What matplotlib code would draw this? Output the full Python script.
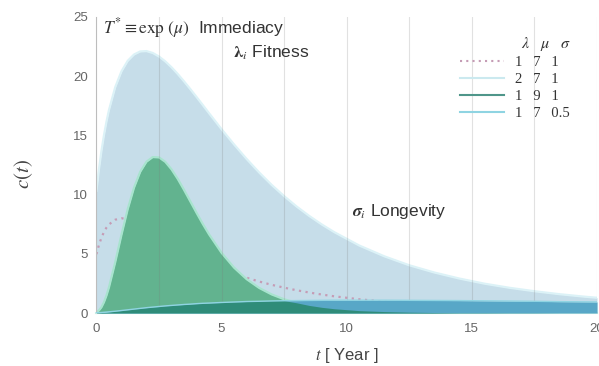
import numpy as np
import matplotlib
matplotlib.use("Agg")
import matplotlib.pyplot as plt
from matplotlib.lines import Line2D

# ---- data (t in years, c(t) citations/year) ----
t = [0, 0.1, 0.2, 0.3, 0.4, 0.5, 0.75, 1.0, 1.25, 1.5, 1.75, 2.0, 2.25, 2.5, 2.75,
     3.0, 3.25, 3.5, 3.75, 4.0, 4.25, 4.5, 5.0, 5.5, 6.0, 6.5, 7.0, 7.5, 8.0, 8.5,
     9.0, 9.5, 10.5, 11.5, 12.5, 13.5, 14.5, 15.5, 16.5, 17.5, 18.5, 19.5, 20.0]

c_171 = [4.97, 5.75, 6.36, 6.84, 7.21, 7.48, 7.88, 8.00, 7.93, 7.75, 7.51, 7.21, 6.90,
         6.57, 6.25, 5.92, 5.60, 5.30, 5.01, 4.73, 4.46, 4.21, 3.75, 3.34, 2.98, 2.66,
         2.38, 2.14, 1.92, 1.73, 1.56, 1.41, 1.16, 0.96, 0.80, 0.67, 0.56, 0.48, 0.41,
         0.35, 0.30, 0.26, 0.24]

c_271 = [10.32, 12.13, 13.68, 15.01, 16.15, 17.14, 19.07, 20.41, 21.30, 21.83, 22.09,
         22.12, 21.96, 21.66, 21.25, 20.75, 20.18, 19.56, 18.91, 18.24, 17.56, 16.87,
         15.52, 14.23, 13.01, 11.87, 10.82, 9.87, 8.99, 8.20, 7.48, 6.83, 5.70, 4.79,
         4.03, 3.42, 2.91, 2.48, 2.13, 1.84, 1.59, 1.38, 1.29]

c_191 = [0.08, 0.22, 0.49, 0.91, 1.47, 2.16, 4.28, 6.60, 8.77, 10.58, 11.93, 12.78,
         13.17, 13.14, 12.77, 12.13, 11.32, 10.40, 9.43, 8.46, 7.52, 6.64, 5.08, 3.83,
         2.86, 2.12, 1.57, 1.16, 0.86, 0.64, 0.48, 0.36, 0.20, 0.12, 0.07, 0.04, 0.02,
         0.02, 0.01, 0.01, 0.00, 0.00, 0.00]

c_1705 = [0.02, 0.03, 0.04, 0.06, 0.08, 0.10, 0.15, 0.21, 0.27, 0.33, 0.39, 0.45, 0.50,
          0.55, 0.60, 0.64, 0.68, 0.72, 0.75, 0.79, 0.82, 0.84, 0.89, 0.93, 0.97, 0.99,
          1.02, 1.04, 1.05, 1.06, 1.07, 1.08, 1.08, 1.08, 1.07, 1.06, 1.05, 1.03, 1.01,
          0.99, 0.96, 0.94, 0.93]

legend_labels = ["1   7   1", "2   7   1", "1   9   1", "1   7   0.5"]
x_ticks = [0, 5, 10, 15, 20]
y_ticks = [0, 5, 10, 15, 20, 25]

plt.rcParams['mathtext.fontset'] = 'stix'
plt.rcParams['font.family'] = ['Liberation Sans', 'DejaVu Sans']

fig = plt.figure(figsize=(5.99, 3.66), dpi=100)
ax = fig.add_axes([0.161, 0.1448, 0.8357, 0.8088])

t_a = np.array(t)
blue = np.array(c_271)
green = np.array(c_191)
flat = np.array(c_1705)
dots = np.array(c_171)

# light blue (lambda = 2)
ax.fill_between(t_a, 0, blue, color='#c6dde9', lw=0, zorder=1)
ax.plot(t_a, blue, color='#dcf2f7', lw=1.6, zorder=1.1)
# dotted (1 7 1)
ax.plot(t_a, dots, color='#c59cb5', lw=1.6, ls=(0, (1, 2)), zorder=1.5)
# green
ax.fill_between(t_a, 0, green, color='#62b38f', lw=0, zorder=2)
ax.plot(t_a, green, color='#a8e4ce', lw=1.6, zorder=2.1)
# low flat curve
ax.fill_between(t_a, 0, flat, color='#58a7c7', lw=0, zorder=3)
ax.fill_between(t_a, 0, np.minimum(flat, green), color='#2f8c79', lw=0, zorder=3.1)
ax.plot(t_a, flat, color='#8fd4e2', lw=1.0, zorder=3.2)

ax.set_xlim(0, 20)
ax.set_ylim(0, 25)
ax.set_xticks(x_ticks)
ax.set_xticks([2.5, 7.5, 12.5, 17.5], minor=True)
ax.set_yticks(y_ticks)
ax.tick_params(axis='both', which='both', length=0, labelsize=9.5, labelcolor='#666666')
ax.tick_params(axis='y', pad=6)
ax.tick_params(axis='x', pad=7)
ax.grid(axis='x', which='both', color='#7a7a7a', alpha=0.22, lw=0.8, zorder=4)
ax.set_axisbelow(False)
for s in ['top', 'right']:
    ax.spines[s].set_visible(False)
ax.spines['left'].set_color('#d0d0d0')
ax.spines['left'].set_linewidth(0.8)
ax.spines['bottom'].set_color('#c8ece4')
ax.spines['bottom'].set_linewidth(1.5)

ax.set_xlabel(r"$t$ [ Year ]", fontsize=12, color='#444444')
ax.xaxis.set_label_coords(0.5, -0.112)
ax.set_ylabel(r"$c(t)$", fontsize=15, color='#444444')
ax.yaxis.set_label_coords(-0.122, 0.47)

ax.text(0.26, 24.1, r"$T^{*}\equiv\mathrm{exp}\ (\mu)$  Immediacy", fontsize=12.5,
        color='#333333', va='center', ha='left', zorder=6)
ax.text(5.45, 22.0, r"$\boldsymbol{\lambda}_{\mathit{i}}$ Fitness", fontsize=12.5,
        color='#333333', va='center', ha='left', zorder=6)
ax.text(10.2, 8.6, r"$\boldsymbol{\sigma}_{\mathit{i}}$ Longevity", fontsize=12.5,
        color='#333333', va='center', ha='left', zorder=6)

handles = [Line2D([], [], color='#c59cb5', lw=1.5, ls=(0, (1, 2))),
           Line2D([], [], color='#cbe9ef', lw=1.5),
           Line2D([], [], color='#4f968a', lw=1.5),
           Line2D([], [], color='#8fd4e2', lw=1.5)]
leg = ax.legend(handles, legend_labels, loc='upper left', bbox_to_anchor=(0.70, 0.985),
                frameon=False, handlelength=3.0, labelspacing=0.25, handletextpad=0.8,
                title=r"$\lambda\ \ \ \mu\ \ \ \sigma$", alignment='right',
                prop={'family': 'Liberation Serif', 'size': 10.5})
leg.get_title().set_fontsize(11.5)
leg.get_title().set_color('#333333')
for txt in leg.get_texts():
    txt.set_color('#333333')
leg.set_zorder(7)

fig.savefig("out.png", dpi=100)
